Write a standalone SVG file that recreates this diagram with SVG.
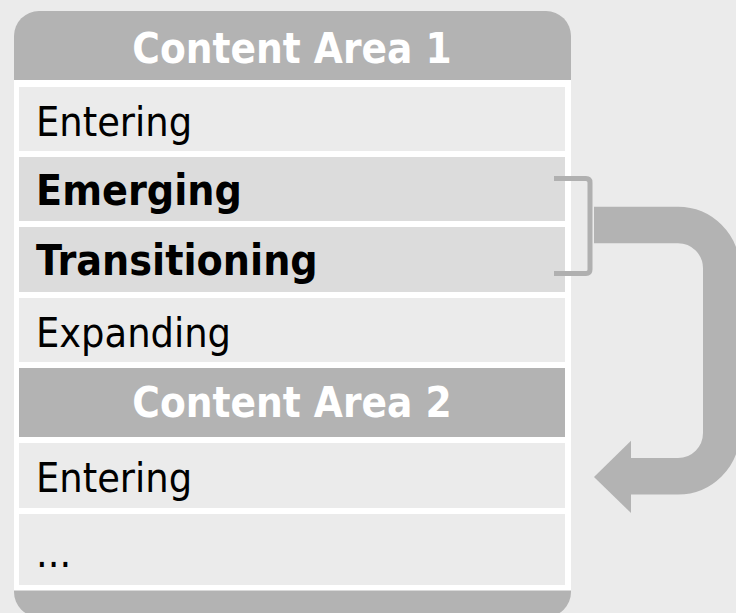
<svg xmlns="http://www.w3.org/2000/svg" width="736" height="613" viewBox="0 0 736 613">
<style>
.txt{font-family:'DejaVu Sans Condensed','DejaVu Sans',sans-serif;font-stretch:condensed;fill:#000}
.reg{font-size:41px}
.bold{font-size:42.5px;font-weight:bold}
.head{font-size:41.8px;font-weight:bold;fill:#fff;text-anchor:middle}
.light{fill:#ebebeb}
.dark{fill:#dcdcdc}
.grey{fill:#b3b3b3}
</style>
<rect width="736" height="613" fill="#ebebeb"/>
<g id="container">
<rect x="14" y="11" width="557" height="606" rx="25" ry="25" class="grey"/>
<rect x="14" y="80" width="557" height="510.5" fill="#ffffff"/>
</g>
<g id="header1"><text x="292" y="63" class="txt head">Content Area 1</text></g>
<g id="row-entering1"><rect x="19" y="87" width="546" height="64" class="light"/><text x="36" y="136" class="txt reg">Entering</text></g>
<g id="row-emerging"><rect x="19" y="157" width="546" height="64" class="dark"/><text x="36" y="205" class="txt bold">Emerging</text></g>
<g id="row-transitioning"><rect x="19" y="227" width="546" height="65" class="dark"/><text x="36" y="275" class="txt bold">Transitioning</text></g>
<g id="row-expanding"><rect x="19" y="298" width="546" height="64" class="light"/><text x="36" y="347" class="txt reg">Expanding</text></g>
<g id="header2"><rect x="19" y="368" width="546" height="69" class="grey"/><text x="292" y="417" class="txt head">Content Area 2</text></g>
<g id="row-entering2"><rect x="19" y="443" width="546" height="65" class="light"/><text x="36" y="492" class="txt reg">Entering</text></g>
<g id="row-more"><rect x="19" y="514" width="546" height="71" class="light"/><text x="36" y="567" class="txt reg">...</text></g>
<g id="connectors">
<path d="M554,178.5 H586 Q590,178.5 590,182.5 V269.5 Q590,273.5 586,273.5 H554" fill="none" stroke="#b0b0b0" stroke-width="5"/>
<path d="M594,225 H678 A43.3,43.3 0 0 1 721.3,268.3 V433 A43.3,43.3 0 0 1 678,476.3 H628" fill="none" stroke="#b3b3b3" stroke-width="36.6"/>
<polygon points="631,440.7 594,477 631,513" fill="#b3b3b3"/>
</g>
</svg>
